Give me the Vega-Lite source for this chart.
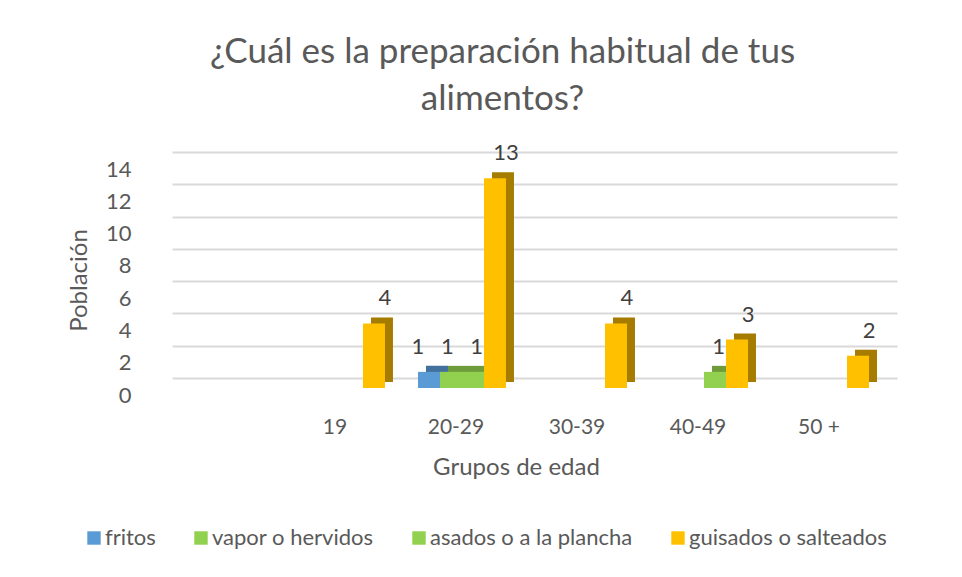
{
  "$schema": "https://vega.github.io/schema/vega-lite/v6.json",
  "width": 725,
  "height": 226,
  "autosize": {"type": "none"},
  "padding": {"left": 172, "top": 152, "right": 65, "bottom": 199},
  "background": "white",
  "config": {"view": {"stroke": null}, "font": "Lato"},
  "title": {
    "text": ["¿Cuál es la preparación habitual de tus", "alimentos?"],
    "fontSize": 35,
    "font": "Lato",
    "fontWeight": "normal",
    "color": "#595959",
    "anchor": "middle",
    "dx": -32,
    "offset": 25,
    "lineHeight": 47
  },
  "data": {
    "values": [
      {"grupo": "19", "serie": "guisados o salteados", "valor": 4},
      {"grupo": "20-29", "serie": "fritos", "valor": 1},
      {"grupo": "20-29", "serie": "vapor o hervidos", "valor": 1},
      {"grupo": "20-29", "serie": "asados o a la plancha", "valor": 1},
      {"grupo": "20-29", "serie": "guisados o salteados", "valor": 13},
      {"grupo": "30-39", "serie": "guisados o salteados", "valor": 4},
      {"grupo": "40-49", "serie": "asados o a la plancha", "valor": 1},
      {"grupo": "40-49", "serie": "guisados o salteados", "valor": 3},
      {"grupo": "50 +", "serie": "guisados o salteados", "valor": 2}
    ]
  },
  "encoding": {
    "x": {
      "field": "grupo",
      "type": "nominal",
      "sort": ["19", "20-29", "30-39", "40-49", "50 +"],
      "scale": {"domain": ["19", "20-29", "30-39", "40-49", "50 +"], "paddingInner": 0.2727, "paddingOuter": 0.632, "align": 0.817},
      "axis": {
        "title": "Grupos de edad",
        "titleFontSize": 24,
        "titleFontWeight": "normal",
        "titleColor": "#595959",
        "titleFont": "Lato",
        "titlePadding": 18,
        "titleX": 344,
        "labelFontSize": 21,
        "labelColor": "#595959",
        "labelFont": "Lato",
        "labelAngle": 0,
        "labelPadding": 38,
        "labelOffset": -6,
        "domain": false,
        "ticks": false,
        "grid": false
      }
    },
    "y": {
      "field": "valor",
      "type": "quantitative",
      "scale": {"domain": [0, 14], "nice": false},
      "axis": {
        "title": "Población",
        "titleFontSize": 24,
        "titleFontWeight": "normal",
        "titleColor": "#595959",
        "titleFont": "Lato",
        "titlePadding": 14,
        "titleY": 128,
        "values": [0, 2, 4, 6, 8, 10, 12, 14],
        "labelFontSize": 22,
        "labelColor": "#595959",
        "labelFont": "Lato",
        "labelPadding": 41,
        "labelOffset": 17,
        "domain": false,
        "ticks": false,
        "gridColor": "#D9D9D9",
        "gridWidth": 2
      }
    }
  },
  "layer": [
    {
      "mark": {"type": "bar", "yOffset": 4, "y2Offset": 4},
      "encoding": {
        "xOffset": {
          "field": "serie",
          "type": "nominal",
          "scale": {"domain": ["fritos", "vapor o hervidos", "asados o a la plancha", "guisados o salteados"], "range": [8, 96], "paddingInner": 0, "paddingOuter": 0}
        },
        "color": {
          "field": "serie",
          "type": "nominal",
          "scale": {"domain": ["fritos", "vapor o hervidos", "asados o a la plancha", "guisados o salteados"], "range": ["#41719C", "#6E9C3A", "#6E9C3A", "#A67C00"]},
          "legend": null
        }
      }
    },
    {
      "mark": {"type": "bar", "yOffset": 10, "y2Offset": 10},
      "encoding": {
        "xOffset": {
          "field": "serie",
          "type": "nominal",
          "scale": {"domain": ["fritos", "vapor o hervidos", "asados o a la plancha", "guisados o salteados"], "paddingInner": 0, "paddingOuter": 0}
        },
        "color": {
          "field": "serie",
          "type": "nominal",
          "scale": {"domain": ["fritos", "vapor o hervidos", "asados o a la plancha", "guisados o salteados"], "range": ["#5B9BD5", "#92D050", "#92D050", "#FFC000"]},
          "legend": {
            "title": null,
            "orient": "none",
            "direction": "horizontal",
            "legendX": -89,
            "legendY": 375,
            "symbolType": "square",
            "symbolSize": 180,
            "symbolStrokeWidth": 0,
            "labelFontSize": 22,
            "labelFont": "Lato",
            "labelColor": "#595959",
            "labelLimit": 400,
            "columnPadding": 34,
            "symbolOffset": 0,
            "labelOffset": 0
          }
        }
      }
    },
    {
      "mark": {"type": "text", "baseline": "middle", "dy": -15, "fontSize": 22, "font": "Lato", "color": "#404040"},
      "encoding": {
        "xOffset": {
          "field": "serie",
          "type": "nominal",
          "scale": {"domain": ["fritos", "vapor o hervidos", "asados o a la plancha", "guisados o salteados"], "paddingInner": 0, "paddingOuter": 0}
        },
        "text": {"field": "valor", "type": "quantitative"}
      }
    }
  ],
  "resolve": {"scale": {"color": "independent", "xOffset": "independent"}}
}
